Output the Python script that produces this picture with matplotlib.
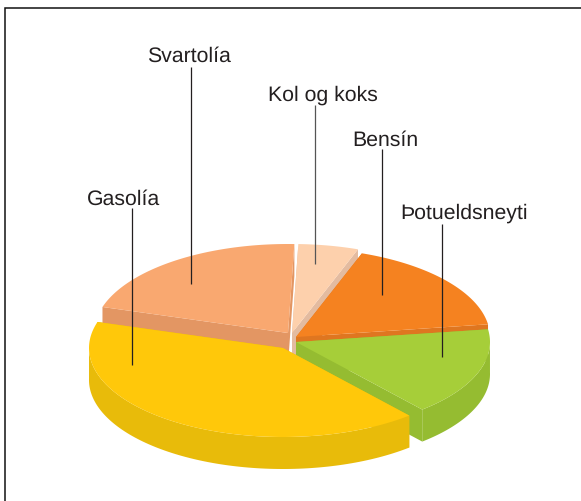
import numpy as np
import matplotlib
matplotlib.use("Agg")
import matplotlib.pyplot as plt
from matplotlib.patches import Polygon

# Listed counter-clockwise, starting from the left edge of Gasolía
categories = ["Gasolía", "Þotueldsneyti", "Bensín", "Kol og koks", "Svartolía"]
values = [41.0, 16.0, 17.2, 5.0, 20.8]

W, H = 581, 501
START = 163.0  # angle where the first slice begins, degrees counter-clockwise
RX, RY, DEPTH = 194, 89, 32
centres = {"Gasolía": (283, 348), "Svartolía": (288, 333), "Kol og koks": (292, 333),
           "Bensín": (296, 337), "Þotueldsneyti": (296, 342)}
top_col = {"Gasolía": "#FFC80A", "Svartolía": "#F9A870", "Kol og koks": "#FDD0AC",
           "Bensín": "#F58220", "Þotueldsneyti": "#A6CE39"}
side_col = {"Gasolía": "#E8BB0A", "Svartolía": "#E39663", "Kol og koks": "#E3BBA0",
            "Bensín": "#DF7620", "Þotueldsneyti": "#95BC31"}
label_pos = {"Gasolía": (123.5, 205), "Svartolía": (188.5, 62), "Kol og koks": (323.3, 101),
             "Bensín": (385.5, 145.7), "Þotueldsneyti": (464.2, 219)}
leaders = {"Gasolía": (131.5, 207.7, 365), "Svartolía": (191, 67.3, 284), "Kol og koks": (315, 105, 264),
           "Bensín": (382, 149, 295), "Þotueldsneyti": (442, 224, 357)}
leader_col = {"Gasolía": "#231F20", "Svartolía": "#231F20", "Kol og koks": "#555555",
              "Bensín": "#231F20", "Þotueldsneyti": "#231F20"}
draw_order = ["Kol og koks", "Svartolía", "Bensín", "Þotueldsneyti", "Gasolía"]

plt.rcParams["text.hinting"] = "none"
fig = plt.figure(figsize=(W / 100, H / 100), dpi=100)
ax = fig.add_axes([0, 0, 1, 1])
ax.set_xlim(0, W)
ax.set_ylim(H, 0)
ax.axis("off")

# frame: only the top and left edges fall inside the picture
ax.plot([5, 5, W], [H, 7.5, 7.5], color="#111111", lw=1.1, solid_joinstyle="miter")

sweep = np.array(values) / sum(values) * 360
a0 = START + np.concatenate(([0], np.cumsum(sweep)[:-1]))
spans = {c: (a, a + s) for c, a, s in zip(categories, a0, sweep)}


def rim(cat, n=120):
    cx, cy = centres[cat]
    t = np.radians(np.linspace(*spans[cat], n))
    return cx + RX * np.cos(t), cy - RY * np.sin(t)


for cat in draw_order:
    cx, cy = centres[cat]
    x, y = rim(cat)
    for i in (0, -1):
        ax.add_patch(Polygon([(cx, cy), (x[i], y[i]), (x[i], y[i] + DEPTH), (cx, cy + DEPTH)],
                             fc=side_col[cat], ec="none"))
    # outer wall: only the part facing the viewer
    mask = np.sin(np.radians(np.linspace(*spans[cat], x.size))) <= 0.02
    if mask.any():
        xs, ys = x[mask], y[mask]
        ax.add_patch(Polygon(np.column_stack([np.r_[xs, xs[::-1]], np.r_[ys, ys[::-1] + DEPTH]]),
                             fc=side_col[cat], ec="none"))
    ax.add_patch(Polygon(np.column_stack([np.r_[cx, x], np.r_[cy, y]]), fc=top_col[cat], ec="none"))

for cat in categories:
    lx, y0, y1 = leaders[cat]
    ax.plot([lx, lx], [y0, y1], color=leader_col[cat], lw=0.9, solid_capstyle="butt")
    tx, ty = label_pos[cat]
    ax.text(tx, ty, cat, ha="center", va="baseline", fontsize=15.3,
            family="Liberation Sans", color="#231F20")

fig.savefig("out.png", dpi=100, facecolor="white")
